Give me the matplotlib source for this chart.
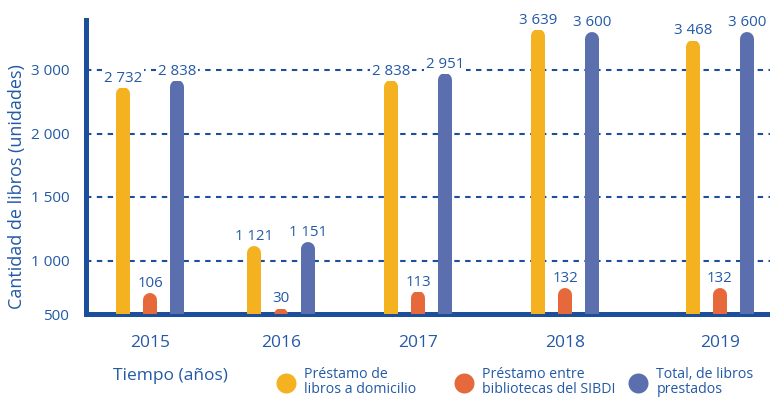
import numpy as np
import matplotlib
matplotlib.use("Agg")
import matplotlib.pyplot as plt
from matplotlib.lines import Line2D
from matplotlib.transforms import offset_copy

# --- data -------------------------------------------------------------
years = ["2015", "2016", "2017", "2018", "2019"]
prestamo_domicilio = [2732, 1121, 2838, 3639, 3468]
prestamo_sibdi = [106, 30, 113, 132, 132]
total_prestados = [2838, 1151, 2951, 3600, 3600]
y_ticks = [500, 1000, 1500, 2000, 3000]
series_names = [
    "Préstamo de\nlibros a domicilio",
    "Préstamo entre\nbibliotecas del SIBDI",
    "Total, de libros\nprestados",
]

# --- layout / style ---------------------------------------------------
FONT = ["Open Sans", "DejaVu Sans"]
AXIS_BLUE = "#1B4F9C"
TEXT_BLUE = "#2359A6"
COLORS = ["#F4B120", "#E5693A", "#5B6FAE"]
group_x = [0.0, 1.0, 2.046, 3.17, 4.35]
series_offset = [-0.206, 0.0, 0.206]
legend_px = [279, 457, 631]
BAR_PX = 14

plt.rcParams["font.family"] = FONT

# piecewise axis: uneven spacing between labelled levels
scale_values = [500, 1000, 1500, 2000, 3000, 4000]
scale_pos = [0, 53, 117, 180, 244, 308]


def fwd(v):
    return np.interp(np.asarray(v, dtype=float), scale_values, scale_pos)


def inv(p):
    return np.interp(np.asarray(p, dtype=float), scale_pos, scale_values)


def fmt(v):
    return f"{v:,}".replace(",", " ")


W, H = 770, 397
fig = plt.figure(figsize=(W / 100, H / 100), dpi=100)
ax = fig.add_axes([86 / W, (H - 314) / H, (W - 86) / W, 294 / H])
ax.set_yscale("function", functions=(fwd, inv))
ax.set_ylim(500, 3781)
ax.set_xlim(-0.489, 4.733)

# secondary (hidden) axis for the small inter-library series
ax2 = ax.twinx()
ax2.set_ylim(0, 1470)
ax2.axis("off")

lw = BAR_PX * 72 / 100


def draw_bar(axis, x, base, value, color):
    # round-capped bar whose visible top sits exactly at value
    tr = offset_copy(axis.transData, fig=fig, y=-lw / 2, units="points")
    axis.plot([x, x], [base, value], color=color, lw=lw,
              solid_capstyle="round", transform=tr, zorder=3)
    axis.annotate(fmt(value), (x, value),
                  xytext=(0, 4), textcoords="offset points",
                  ha="center", va="baseline", fontsize=10.8,
                  color=TEXT_BLUE, zorder=4,
                  bbox=dict(boxstyle="square,pad=0.15", fc="white",
                            ec="none"))


for i, gx in enumerate(group_x):
    draw_bar(ax, gx + series_offset[0], 500, prestamo_domicilio[i], COLORS[0])
    draw_bar(ax2, gx + series_offset[1], 0, prestamo_sibdi[i], COLORS[1])
    draw_bar(ax, gx + series_offset[2], 500, total_prestados[i], COLORS[2])

# grid
ax.set_axisbelow(True)
ax.yaxis.grid(True, color=AXIS_BLUE, lw=1.5, ls=(0, (2.6, 2.6)))
ax.xaxis.grid(False)

# spines
for s in ["top", "right"]:
    ax.spines[s].set_visible(False)
for s in ["left", "bottom"]:
    ax.spines[s].set_color(AXIS_BLUE)
    ax.spines[s].set_linewidth(3.6)
    ax.spines[s].set_capstyle("projecting")

# ticks
ax.set_yticks(y_ticks)
ax.set_yticklabels([fmt(v) for v in y_ticks])
ax.yaxis.get_gridlines()[0].set_visible(False)
ax.set_xticks(group_x)
ax.set_xticklabels(years)
ax.tick_params(axis="y", length=0, pad=12, labelsize=11, labelcolor=TEXT_BLUE)
ax.tick_params(axis="x", length=0, pad=15, labelsize=12.5, labelcolor=TEXT_BLUE)

fig.text(17 / W, (H - 187) / H, "Cantidad de libros (unidades)", rotation=90,
         ha="center", va="center", fontsize=13, color=TEXT_BLUE)
fig.text(170 / W, (H - 376) / H, "Tiempo (años)", ha="center", va="center",
         fontsize=12.5, color=TEXT_BLUE)

# one legend block per series, spaced along the bottom
for color, name, lx in zip(COLORS, series_names, legend_px):
    handle = Line2D([], [], marker="o", ls="none", ms=14.4, color=color,
                    markeredgewidth=0)
    leg = fig.legend([handle], [name], loc="center left",
                     bbox_to_anchor=(lx / W, (H - 382) / H),
                     frameon=False, borderpad=0, borderaxespad=0,
                     handlelength=1.0, handletextpad=0.8, fontsize=10.2)
    for t in leg.get_texts():
        t.set_color(TEXT_BLUE)
        t.set_linespacing(0.95)

fig.savefig("out.png", dpi=100)
